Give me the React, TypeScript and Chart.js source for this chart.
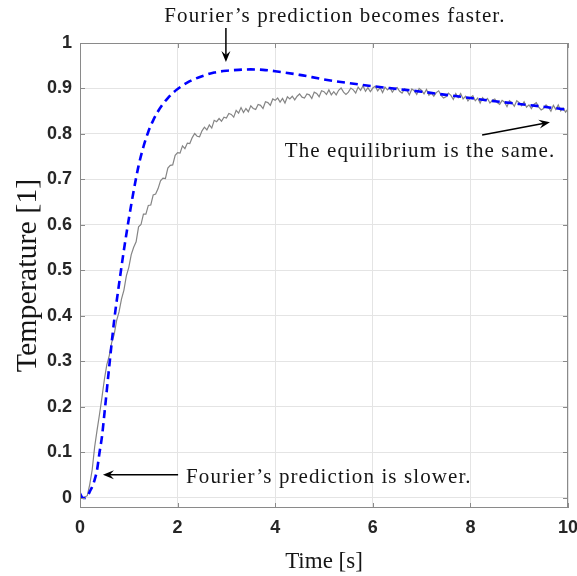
import React, { useEffect, useRef } from 'react';
import { Chart, registerables } from 'chart.js';

Chart.register(...registerables);

// Measured temperature (grey, noisy)
const measuredTime = [
  0, 0.05, 0.1, 0.15, 0.2, 0.25, 0.3, 0.35, 0.4, 0.45, 0.5, 0.55, 0.6, 0.65, 0.7, 0.75, 0.8, 0.85, 0.9, 0.95,
  1, 1.05, 1.1, 1.15, 1.2, 1.25, 1.3, 1.35, 1.4, 1.45, 1.5, 1.55, 1.6, 1.65, 1.7, 1.75, 1.8, 1.85, 1.9, 1.95,
  2, 2.05, 2.1, 2.15, 2.2, 2.25, 2.3, 2.35, 2.4, 2.45, 2.5, 2.55, 2.6, 2.65, 2.7, 2.75, 2.8, 2.85, 2.9, 2.95,
  3, 3.05, 3.1, 3.15, 3.2, 3.25, 3.3, 3.35, 3.4, 3.45, 3.5, 3.55, 3.6, 3.65, 3.7, 3.75, 3.8, 3.85, 3.9, 3.95,
  4, 4.05, 4.1, 4.15, 4.2, 4.25, 4.3, 4.35, 4.4, 4.45, 4.5, 4.55, 4.6, 4.65, 4.7, 4.75, 4.8, 4.85, 4.9, 4.95,
  5, 5.05, 5.1, 5.15, 5.2, 5.25, 5.3, 5.35, 5.4, 5.45, 5.5, 5.55, 5.6, 5.65, 5.7, 5.75, 5.8, 5.85, 5.9, 5.95,
  6, 6.05, 6.1, 6.15, 6.2, 6.25, 6.3, 6.35, 6.4, 6.45, 6.5, 6.55, 6.6, 6.65, 6.7, 6.75, 6.8, 6.85, 6.9, 6.95,
  7, 7.05, 7.1, 7.15, 7.2, 7.25, 7.3, 7.35, 7.4, 7.45, 7.5, 7.55, 7.6, 7.65, 7.7, 7.75, 7.8, 7.85, 7.9, 7.95,
  8, 8.05, 8.1, 8.15, 8.2, 8.25, 8.3, 8.35, 8.4, 8.45, 8.5, 8.55, 8.6, 8.65, 8.7, 8.75, 8.8, 8.85, 8.9, 8.95,
  9, 9.05, 9.1, 9.15, 9.2, 9.25, 9.3, 9.35, 9.4, 9.45, 9.5, 9.55, 9.6, 9.65, 9.7, 9.75, 9.8, 9.85, 9.9, 9.95,
  10,
];
const measuredTemp = [
  0.000, -0.001, 0.002, 0.005, 0.030, 0.062, 0.112, 0.149, 0.184, 0.221, 0.261, 0.293, 0.313, 0.342, 0.359, 0.390, 0.409, 0.437, 0.457, 0.488,
  0.507, 0.535, 0.551, 0.563, 0.596, 0.601, 0.624, 0.624, 0.643, 0.644, 0.666, 0.668, 0.680, 0.697, 0.703, 0.702, 0.725, 0.731, 0.732, 0.753,
  0.759, 0.758, 0.774, 0.768, 0.780, 0.779, 0.792, 0.801, 0.795, 0.794, 0.807, 0.815, 0.809, 0.820, 0.813, 0.830, 0.827, 0.834, 0.828, 0.837,
  0.835, 0.845, 0.843, 0.837, 0.852, 0.846, 0.858, 0.847, 0.856, 0.849, 0.862, 0.856, 0.854, 0.865, 0.863, 0.856, 0.871, 0.869, 0.863, 0.877,
  0.874, 0.879, 0.870, 0.878, 0.868, 0.882, 0.877, 0.883, 0.875, 0.883, 0.888, 0.881, 0.879, 0.888, 0.886, 0.878, 0.892, 0.889, 0.882, 0.895,
  0.893, 0.887, 0.897, 0.886, 0.893, 0.886, 0.896, 0.901, 0.892, 0.887, 0.892, 0.901, 0.897, 0.890, 0.903, 0.896, 0.906, 0.894, 0.902, 0.893,
  0.901, 0.905, 0.895, 0.902, 0.891, 0.903, 0.897, 0.902, 0.892, 0.899, 0.902, 0.894, 0.890, 0.899, 0.895, 0.886, 0.899, 0.895, 0.887, 0.900,
  0.896, 0.888, 0.898, 0.885, 0.890, 0.883, 0.891, 0.895, 0.885, 0.879, 0.882, 0.890, 0.885, 0.876, 0.889, 0.880, 0.889, 0.877, 0.883, 0.873,
  0.880, 0.884, 0.873, 0.879, 0.868, 0.880, 0.873, 0.878, 0.868, 0.874, 0.877, 0.869, 0.865, 0.874, 0.870, 0.860, 0.873, 0.869, 0.861, 0.873,
  0.869, 0.862, 0.871, 0.859, 0.864, 0.856, 0.865, 0.869, 0.859, 0.853, 0.856, 0.864, 0.859, 0.850, 0.863, 0.854, 0.864, 0.851, 0.857, 0.848,
  0.855,
];

// Fourier prediction (blue dashed)
const fourierTime = [
  0, 0.05, 0.1, 0.15, 0.2, 0.25, 0.3, 0.35, 0.4, 0.45, 0.5, 0.6, 0.7, 0.8, 0.9, 1.0, 1.1, 1.2, 1.3, 1.4, 1.5, 1.6, 1.7, 1.8, 1.9, 2.0,
  2.25, 2.5, 2.75, 3.0, 3.25, 3.5, 3.75, 4.0, 4.5, 5.0, 5.5, 6.0, 6.5, 7.0, 7.5, 8.0, 8.5, 9.0, 9.5, 10,
];
const fourierTemp = [
  0.010, 0.001, 0.000, 0.003, 0.014, 0.025, 0.040, 0.062, 0.100, 0.135, 0.185, 0.290, 0.390, 0.470, 0.545, 0.613, 0.675, 0.730, 0.772, 0.805,
  0.830, 0.850, 0.866, 0.879, 0.890, 0.899, 0.916, 0.927, 0.935, 0.939, 0.941, 0.942, 0.941, 0.938, 0.930, 0.920, 0.912, 0.905, 0.899, 0.893,
  0.886, 0.879, 0.872, 0.866, 0.860, 0.853,
];

const xRange = [0, 10];
const yRange = [-0.022, 1];
const xTickValues = [0, 2, 4, 6, 8, 10];
const xTickLabels = ['0', '2', '4', '6', '8', '10'];
const yTickValues = [0, 0.1, 0.2, 0.3, 0.4, 0.5, 0.6, 0.7, 0.8, 0.9, 1];
const yTickLabels = ['0', '0.1', '0.2', '0.3', '0.4', '0.5', '0.6', '0.7', '0.8', '0.9', '1'];
const xTitle = 'Time [s]';
const yTitle = 'Temperature [1]';

// Annotations (data coordinates)
const noteTexts = [
  'Fourier\u2019s prediction becomes faster.',
  'The equilibrium is the same.',
  'Fourier\u2019s prediction is slower.',
];
const noteX = [5.225, 6.967, 5.1];
const noteY = [1.046, 0.749, 0.033];
const arrowTailX = [2.99, 8.24, 2.01];
const arrowTailY = [1.033, 0.798, 0.051];
const arrowHeadX = [2.99, 9.63, 0.47];
const arrowHeadY = [0.958, 0.826, 0.051];

const framePlugin = {
  id: 'matlabFrame',
  afterDraw(chart: any) {
    const { ctx, chartArea, scales } = chart;
    const { left, right, top, bottom } = chartArea;
    const xs = scales.x;
    const ys = scales.y;
    ctx.save();
    // box
    ctx.strokeStyle = '#8a8a8a';
    ctx.lineWidth = 1;
    ctx.strokeRect(left + 0.5, top + 0.5, right - left - 1, bottom - top - 1);
    // inward ticks
    ctx.beginPath();
    xTickValues.forEach((v) => {
      const px = Math.round(xs.getPixelForValue(v)) + 0.5;
      ctx.moveTo(px, bottom);
      ctx.lineTo(px, bottom - 5);
      ctx.moveTo(px, top);
      ctx.lineTo(px, top + 5);
    });
    yTickValues.forEach((v) => {
      const py = Math.round(ys.getPixelForValue(v)) + 0.5;
      ctx.moveTo(left, py);
      ctx.lineTo(left + 5, py);
      ctx.moveTo(right, py);
      ctx.lineTo(right - 5, py);
    });
    ctx.stroke();

    // annotation texts
    ctx.fillStyle = '#151515';
    ctx.font = '21px "Liberation Serif", "Times New Roman", serif';
    (ctx as any).letterSpacing = '1.1px';
    ctx.textAlign = 'center';
    ctx.textBaseline = 'alphabetic';
    noteTexts.forEach((t, i) => {
      ctx.fillText(t, xs.getPixelForValue(noteX[i]), ys.getPixelForValue(noteY[i]));
    });
    (ctx as any).letterSpacing = '0px';

    // arrows
    ctx.strokeStyle = '#000000';
    ctx.fillStyle = '#000000';
    ctx.lineWidth = 1.5;
    arrowTailX.forEach((_, i) => {
      const x0 = xs.getPixelForValue(arrowTailX[i]);
      const y0 = ys.getPixelForValue(arrowTailY[i]);
      const x1 = xs.getPixelForValue(arrowHeadX[i]);
      const y1 = ys.getPixelForValue(arrowHeadY[i]);
      const dx = x1 - x0;
      const dy = y1 - y0;
      const len = Math.hypot(dx, dy);
      const ux = dx / len;
      const uy = dy / len;
      const px = -uy;
      const py = ux;
      const L = 11;
      const W = 4.5;
      const notch = 7;
      ctx.beginPath();
      ctx.moveTo(x0, y0);
      ctx.lineTo(x1 - ux * notch, y1 - uy * notch);
      ctx.stroke();
      ctx.beginPath();
      ctx.moveTo(x1, y1);
      ctx.lineTo(x1 - ux * L + px * W, y1 - uy * L + py * W);
      ctx.lineTo(x1 - ux * notch, y1 - uy * notch);
      ctx.lineTo(x1 - ux * L - px * W, y1 - uy * L - py * W);
      ctx.closePath();
      ctx.fill();
    });
    ctx.restore();
  },
};

export default function App() {
  const canvasRef = useRef<HTMLCanvasElement | null>(null);

  useEffect(() => {
    const canvas = canvasRef.current;
    if (!canvas) return;
    const tickFont = { family: '"Liberation Sans", Arial, Helvetica, sans-serif', size: 18, weight: 'bold' as const };
    const chart = new Chart(canvas, {
      type: 'line',
      data: {
        datasets: [
          {
            label: 'Fourier prediction',
            data: fourierTime.map((t, i) => ({ x: t, y: fourierTemp[i] })),
            borderColor: '#0000ff',
            borderWidth: 2.6,
            borderDash: [8, 5],
            pointRadius: 0,
            cubicInterpolationMode: 'monotone',
            fill: false,
          },
          {
            label: 'Measurement',
            data: measuredTime.map((t, i) => ({ x: t, y: measuredTemp[i] })),
            borderColor: '#858585',
            borderWidth: 1.2,
            pointRadius: 0,
            tension: 0,
            fill: false,
          },
        ],
      },
      options: {
        responsive: false,
        animation: false,
        devicePixelRatio: 1,
        layout: { padding: { top: 43, right: 9, left: 0, bottom: 0 }, autoPadding: false } as any,
        plugins: { legend: { display: false }, tooltip: { enabled: false } },
        scales: {
          x: {
            type: 'linear',
            min: xRange[0],
            max: xRange[1],
            afterFit: (s: any) => { s.height = 68; s.paddingLeft = 0; s.paddingRight = 0; },
            afterBuildTicks: (s: any) => { s.ticks = xTickValues.map((v) => ({ value: v })); },
            ticks: {
              callback: (_v: any, i: number) => xTickLabels[i],
              font: tickFont,
              color: '#262626',
              padding: 9,
              maxRotation: 0,
              autoSkip: false,
            },
            grid: { color: '#e4e4e4', drawTicks: false },
            border: { display: false },
            title: {
              display: true,
              text: xTitle,
              font: { family: '"Liberation Serif", "Times New Roman", serif', size: 23 },
              color: '#151515',
              padding: { top: 0, bottom: 0 },
            },
          },
          y: {
            type: 'linear',
            min: yRange[0],
            max: yRange[1],
            afterFit: (s: any) => { s.width = 80; s.paddingTop = 0; s.paddingBottom = 0; },
            afterBuildTicks: (s: any) => { s.ticks = yTickValues.map((v) => ({ value: v })); },
            ticks: {
              callback: (_v: any, i: number) => yTickLabels[i],
              font: tickFont,
              color: '#262626',
              padding: 8,
              autoSkip: false,
            },
            grid: { color: '#e4e4e4', drawTicks: false },
            border: { display: false },
            title: {
              display: true,
              text: yTitle,
              font: { family: '"Liberation Serif", "Times New Roman", serif', size: 30 },
              color: '#151515',
              padding: { top: 10, bottom: 0 },
            },
          },
        },
      },
      plugins: [framePlugin],
    });
    return () => chart.destroy();
  }, []);

  return (
    <div style={{ position: 'fixed', left: 0, top: 0, width: 577, height: 576, background: '#ffffff' }}>
      <canvas ref={canvasRef} width={577} height={576} style={{ display: 'block', width: 577, height: 576 }} />
    </div>
  );
}
